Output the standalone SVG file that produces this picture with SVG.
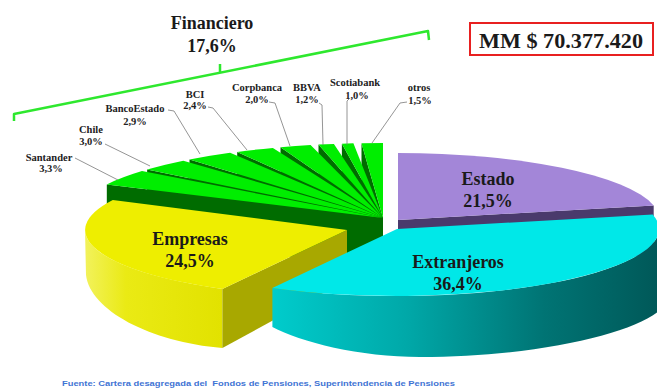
<svg xmlns="http://www.w3.org/2000/svg" width="657" height="388" viewBox="0 0 657 388">
<defs>
<style>
.gtop{fill:#00ee00}
.gcut{fill:#006c00}
.big{font-family:"Liberation Serif","Times New Roman",serif;font-weight:bold;font-size:18px;fill:#1a1a1a;text-anchor:middle}
.sm{font-family:"Liberation Serif","Times New Roman",serif;font-weight:bold;font-size:10.5px;fill:#222;text-anchor:middle}
.lead{fill:none;stroke:#7a7a7a;stroke-width:0.8}
</style>
<linearGradient id="cyanSide" gradientUnits="userSpaceOnUse" x1="272" y1="0" x2="660" y2="0">
<stop offset="0" stop-color="#00cccc"/>
<stop offset="0.35" stop-color="#00a8a8"/>
<stop offset="0.7" stop-color="#007474"/>
<stop offset="1" stop-color="#005858"/>
</linearGradient>
<linearGradient id="yelSide" gradientUnits="userSpaceOnUse" x1="85" y1="0" x2="222" y2="0">
<stop offset="0" stop-color="#f2f25c"/>
<stop offset="0.3" stop-color="#eaea14"/>
<stop offset="1" stop-color="#e2e200"/>
</linearGradient>
</defs>
<rect width="657" height="388" fill="#ffffff"/>

<g id="estado">
<path d="M398,220 L653.7,205.4 L653.7,255.4 L398,270 Z" fill="#4a3a6c"/>
<path d="M398,220 L398,153 A262,67 0 0 1 653.7,205.4 Z" fill="#a386d8"/>
<text class="big" x="488" y="185">Estado</text>
<text class="big" x="488" y="207">21,5%</text>
</g>

<g id="financiero">
<g id="otros">
<path class="gcut" d="M383,218 L361.5,143.2 L361.5,193.2 L383,268 Z"/>
<path class="gtop" d="M383,218 L361.5,143.2 A309,75 0 0 1 383,143 Z"/>
</g>
<g id="scotiabank">
<path class="gcut" d="M383,218 L341.9,143.7 L341.9,193.7 L383,268 Z"/>
<path class="gtop" d="M383,218 L341.9,143.7 A309,75 0 0 1 353.4,143.3 Z"/>
</g>
<g id="bbva">
<path class="gcut" d="M383,218 L318.5,144.6 L318.5,194.6 L383,268 Z"/>
<path class="gtop" d="M383,218 L318.5,144.6 A309,75 0 0 1 333.9,144.0 Z"/>
</g>
<g id="corpbanca">
<path class="gcut" d="M383,218 L280.5,147.2 L280.5,197.2 L383,268 Z"/>
<path class="gtop" d="M383,218 L280.5,147.2 A309,75 0 0 1 310.6,145.1 Z"/>
</g>
<g id="bci">
<path class="gcut" d="M383,218 L237.2,151.9 L237.2,201.9 L383,268 Z"/>
<path class="gtop" d="M383,218 L237.2,151.9 A309,75 0 0 1 272.9,147.9 Z"/>
</g>
<g id="bancoestado">
<path class="gcut" d="M383,218 L189.5,159.5 L189.5,209.5 L383,268 Z"/>
<path class="gtop" d="M383,218 L189.5,159.5 A309,75 0 0 1 230.1,152.8 Z"/>
</g>
<g id="chile">
<path class="gcut" d="M383,218 L147.1,169.6 L147.1,219.6 L383,268 Z"/>
<path class="gtop" d="M383,218 L147.1,169.6 A309,75 0 0 1 183.3,160.8 Z"/>
</g>
<g id="santander">
<path class="gcut" d="M383,218 L106.8,184.4 L106.8,234.4 L383,268 Z"/>
<path class="gtop" d="M383,218 L106.8,184.4 A309,75 0 0 1 142.0,171.1 Z"/>
</g>
</g>

<g id="empresas">
<path d="M222.4,288.9 A262,67 0 0 1 85,230 L86,275 C90,310 150,342 222.4,348 Z" fill="url(#yelSide)"/>
<path d="M347,230 L222.4,288.9 L222.4,348 L347,280 Z" fill="#a8a800"/>
<path d="M347,230 L222.4,288.9 A262,67 0 0 1 112.8,200 Z" fill="#eeee00"/>
<text class="big" x="190" y="245">Empresas</text>
<text class="big" x="190" y="267">24,5%</text>
</g>

<g id="extranjeros">
<path d="M272.4,287.9 A262,67 0 0 0 658,234.8 L662,308 C640,332 540,357 420,357 C360,357 300,342 272.4,327 Z" fill="url(#cyanSide)"/>
<path d="M397,229 L652.7,214.4 A262,67 0 0 1 272.4,287.9 Z" fill="#00e8e8"/>
<text class="big" x="458" y="268">Extranjeros</text>
<text class="big" x="458" y="290">36,4%</text>
</g>

<g id="connectors">
<polyline class="lead" points="75,158 118,180"/>
<polyline class="lead" points="105,144 150,166"/>
<polyline class="lead" points="168,110 174,111 200,154"/>
<polyline class="lead" points="208,107 213,108 247,150"/>
<polyline class="lead" points="269,102 275,103 290,146"/>
<polyline class="lead" points="319,103 322,105 323,145"/>
<polyline class="lead" points="349,99 347,101 347,145"/>
<polyline class="lead" points="407,102 400,103 372,143"/>
<path d="M14,121 L14,114 L428,31 L429,40 M220,72.7 L220,64" fill="none" stroke="#2ee82e" stroke-width="2.5" stroke-linejoin="round"/>
</g>

<g id="labels">
<text class="sm" x="49" y="161">Santander</text>
<text class="sm" x="51" y="172">3,3%</text>
<text class="sm" x="91" y="133">Chile</text>
<text class="sm" x="91" y="145">3,0%</text>
<text class="sm" x="135" y="112">BancoEstado</text>
<text class="sm" x="135" y="125">2,9%</text>
<text class="sm" x="195" y="98">BCI</text>
<text class="sm" x="195" y="109">2,4%</text>
<text class="sm" x="257" y="91">Corpbanca</text>
<text class="sm" x="257" y="103">2,0%</text>
<text class="sm" x="307" y="91">BBVA</text>
<text class="sm" x="307" y="103">1,2%</text>
<text class="sm" x="355" y="86">Scotiabank</text>
<text class="sm" x="357" y="99">1,0%</text>
<text class="sm" x="419" y="91">otros</text>
<text class="sm" x="420" y="104">1,5%</text>
</g>

<g id="financiero-label">
<text class="big" x="212" y="29">Financiero</text>
<text class="big" x="212" y="52">17,6%</text>
</g>

<g id="total">
<rect x="470" y="23" width="183" height="32" fill="#ffffff" stroke="#e82020" stroke-width="2"/>
<text x="561" y="48" font-family="Liberation Serif, Times New Roman, serif" font-weight="bold" font-size="22" fill="#1a1a1a" text-anchor="middle" textLength="164" lengthAdjust="spacingAndGlyphs">MM $ 70.377.420</text>
</g>

<text id="source" x="62" y="386" font-family="Liberation Sans, Arial, sans-serif" font-weight="bold" font-size="8" fill="#3f74d4" textLength="393" lengthAdjust="spacingAndGlyphs" style="white-space:pre">Fuente: Cartera desagregada del  Fondos de Pensiones, Superintendencia de Pensiones</text>
</svg>
